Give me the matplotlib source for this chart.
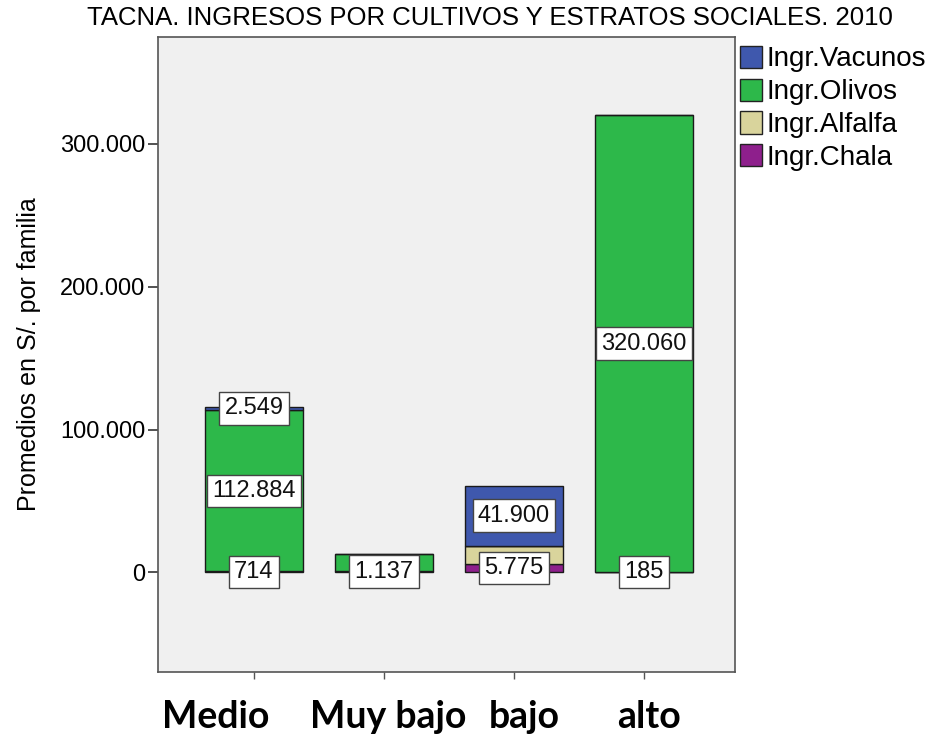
import matplotlib.pyplot as plt
import matplotlib.transforms as mtransforms
from matplotlib.patches import Patch

plt.rcParams['font.family'] = ['Liberation Sans', 'DejaVu Sans']

# datos
estratos = ['Medio', 'Muy bajo', 'bajo', 'alto']
chala = [714, 1137, 5775, 185]
alfalfa = [0, 0, 13000, 0]
olivos = [112884, 12000, 0, 320060]
vacunos = [2549, 0, 41900, 0]

# etiquetas mostradas (None = sin etiqueta)
lab_chala = ['714', '1.137', '5.775', '185']
lab_alfalfa = [None, None, None, None]
lab_olivos = ['112.884', None, None, '320.060']
lab_vacunos = ['2.549', None, '41.900', None]

series = [
    ('Ingr.Chala', chala, lab_chala, '#8E1F8C'),
    ('Ingr.Alfalfa', alfalfa, lab_alfalfa, '#D9D49C'),
    ('Ingr.Olivos', olivos, lab_olivos, '#2DB84A'),
    ('Ingr.Vacunos', vacunos, lab_vacunos, '#3F58AD'),
]

fig = plt.figure(figsize=(9.36, 7.38), dpi=100)
ax = fig.add_axes([158 / 936, 0.089, (735 - 158) / 936, 0.861])
ax.set_facecolor('#F0F0F0')

x = list(range(len(estratos)))
bottom = [0] * len(estratos)
for name, vals, labs, col in series:
    ax.bar(x, vals, bottom=bottom, width=0.76, color=col,
           edgecolor='#1a1a1a', linewidth=1.0)
    for i, (v, lab) in enumerate(zip(vals, labs)):
        if lab is not None:
            ax.text(i, bottom[i] + v / 2, lab, ha='center', va='center',
                    fontsize=17, color='#111111',
                    bbox=dict(boxstyle='square,pad=0.22', facecolor='white',
                              edgecolor='#444444', linewidth=1.0))
    bottom = [b + v for b, v in zip(bottom, vals)]

ax.set_xlim(-0.738, 3.70)
ax.set_ylim(-70000, 375000)
ax.set_yticks([0, 100000, 200000, 300000])
ax.set_yticklabels(['0', '100.000', '200.000', '300.000'], fontsize=17)
ax.set_xticks(x)
ax.set_xticklabels(estratos, fontsize=27, fontweight='bold',
                   family=['Lato', 'Liberation Sans'])
ax.tick_params(axis='y', length=7, width=1.2, color='#333333', pad=2)
ax.tick_params(axis='x', length=5, width=1, color='#555555', pad=15)
for s in ax.spines.values():
    s.set_color('#555555')
    s.set_linewidth(1.2)

# desplazamiento horizontal de las etiquetas de categoria (px)
shift_px = [-38, 4, 10, 5]
for lbl, dx in zip(ax.get_xticklabels(), shift_px):
    off = mtransforms.ScaledTranslation(dx / 100, 0, fig.dpi_scale_trans)
    lbl.set_transform(lbl.get_transform() + off)

ax.set_ylabel('Promedios en S/. por familia', fontsize=18, labelpad=14)
fig.text(490 / 936, 1 - 18 / 738,
         'TACNA. INGRESOS POR CULTIVOS Y ESTRATOS SOCIALES. 2010',
         fontsize=18.5, ha='center', va='center')

handles = [Patch(facecolor=c, edgecolor='#222222', label=n)
           for n, _, _, c in reversed(series)]
fig.legend(handles=handles, loc='upper left', bbox_to_anchor=(0.779, 0.953),
           frameon=False, fontsize=20, handlelength=0.8, handleheight=0.85,
           handletextpad=0.15, labelspacing=0.22, borderaxespad=0)

fig.savefig('out.png', dpi=100)
